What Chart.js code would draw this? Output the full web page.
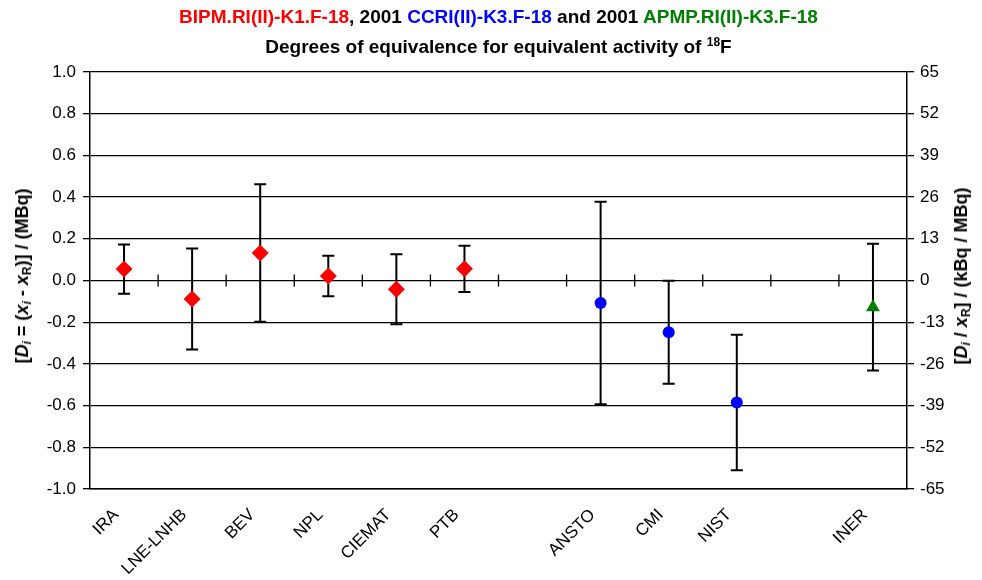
<!DOCTYPE html>
<html>
<head>
<meta charset="utf-8">
<script src="https://cdn.jsdelivr.net/npm/chart.js@4.4.0/dist/chart.umd.min.js"></script>
<style>
  body { margin: 0; background: #fff; font-family: "Liberation Sans", Arial, sans-serif; }
  #wrap { position: relative; width: 982px; height: 580px; }
  #title { position: absolute; left: 90px; width: 817px; top: 6px; text-align: center; font-weight: bold; }
  #title .l1 { font-size: 19px; line-height: 22px; }
  #title .l2 { font-size: 19px; line-height: 22px; margin-top: 3px; }
  .ytitle { position: absolute; font-weight: bold; font-size: 18px; white-space: nowrap;
            transform: translate(-50%, -50%) rotate(-90deg); }
  .ytitle sub { font-size: 12px; vertical-align: -3px; }
  sup { font-size: 12px; vertical-align: 7px; }
</style>
</head>
<body>
<div id="wrap">
  <canvas id="chart" width="982" height="580"></canvas>
  <div id="title">
    <div class="l1"><span style="color:#ff0000">BIPM.RI(II)-K1.F-18</span>, 2001 <span style="color:#0000ff">CCRI(II)-K3.F-18</span> and 2001 <span style="color:#008000">APMP.RI(II)-K3.F-18</span></div>
    <div class="l2">Degrees of equivalence for equivalent activity of <sup>18</sup>F</div>
  </div>
  <div class="ytitle" style="left:23px; top:276px;">[<i>D</i><sub><i>i</i></sub> = (<i>x</i><sub><i>i</i></sub> - <i>x</i><sub>R</sub>)] / (MBq)</div>
  <div class="ytitle" style="left:962px; top:276px;">[<i>D</i><sub><i>i</i></sub> / <i>x</i><sub>R</sub>] / (kBq / MBq)</div>
</div>
<script>
// labs in comparison order, blanks are gaps between comparisons
const labs = ['IRA', 'LNE-LNHB', 'BEV', 'NPL', 'CIEMAT', 'PTB', '', 'ANSTO', 'CMI', 'NIST', '', 'INER'];

// degrees of equivalence D_i (MBq) and expanded uncertainty U_i
const bipmD = [0.055, -0.089, 0.132, 0.022, -0.042, 0.056, null, null, null, null, null, null];
const bipmU = [0.118, 0.242, 0.330, 0.097, 0.168, 0.111, null, null, null, null, null, null];
const ccriD = [null, null, null, null, null, null, null, -0.108, -0.248, -0.585, null, null];
const ccriU = [null, null, null, null, null, null, null, 0.486, 0.247, 0.325, null, null];
const apmpD = [null, null, null, null, null, null, null, null, null, null, null, -0.128];
const apmpU = [null, null, null, null, null, null, null, null, null, null, null, 0.304];

const leftTicks = [-1.0, -0.8, -0.6, -0.4, -0.2, 0.0, 0.2, 0.4, 0.6, 0.8, 1.0];
const rightTicks = [-65, -52, -39, -26, -13, 0, 13, 26, 39, 52, 65];

Chart.defaults.font.family = '"Liberation Sans", Arial, sans-serif';
Chart.defaults.color = '#000';

// error bars drawn under the markers
const errorBars = {
  id: 'errorBars',
  beforeDatasetsDraw(chart) {
    const ctx = chart.ctx;
    const x = chart.scales.x, y = chart.scales.y;
    ctx.save();
    ctx.strokeStyle = '#000';
    ctx.lineWidth = 2;
    chart.data.datasets.forEach(ds => {
      ds.data.forEach((v, i) => {
        if (v == null) return;
        const u = ds.errors[i];
        const px = x.getPixelForValue(i);
        const top = y.getPixelForValue(v + u);
        const bot = y.getPixelForValue(v - u);
        ctx.beginPath();
        ctx.moveTo(px, top); ctx.lineTo(px, bot);
        ctx.moveTo(px - 6, top); ctx.lineTo(px + 6, top);
        ctx.moveTo(px - 6, bot); ctx.lineTo(px + 6, bot);
        ctx.stroke();
      });
    });
    ctx.restore();
  }
};

// small category separators across the zero line
const zeroTicks = {
  id: 'zeroTicks',
  beforeDatasetsDraw(chart) {
    const ctx = chart.ctx;
    const x = chart.scales.x, y = chart.scales.y;
    const y0 = y.getPixelForValue(0);
    ctx.save();
    ctx.strokeStyle = '#000';
    ctx.lineWidth = 1.3;
    ctx.beginPath();
    for (let i = 1; i < labs.length; i++) {
      const px = (x.getPixelForValue(i - 1) + x.getPixelForValue(i)) / 2;
      ctx.moveTo(px, y0 - 6); ctx.lineTo(px, y0 + 6);
    }
    ctx.stroke();
    ctx.restore();
  }
};

new Chart(document.getElementById('chart'), {
  type: 'line',
  data: {
    labels: labs,
    datasets: [
      { label: 'BIPM.RI(II)-K1.F-18', data: bipmD, errors: bipmU, showLine: false,
        pointStyle: 'rectRot', pointRadius: 8.5, backgroundColor: '#ff0000', borderColor: '#ff0000', borderWidth: 0 },
      { label: 'CCRI(II)-K3.F-18', data: ccriD, errors: ccriU, showLine: false,
        pointStyle: 'circle', pointRadius: 6, backgroundColor: '#0000ff', borderColor: '#0000ff', borderWidth: 0 },
      { label: 'APMP.RI(II)-K3.F-18', data: apmpD, errors: apmpU, showLine: false,
        pointStyle: 'triangle', pointRadius: 8, backgroundColor: '#008000', borderColor: '#008000', borderWidth: 0 }
    ]
  },
  options: {
    responsive: false,
    animation: false,
    layout: { padding: { top: 72, left: 0, right: 0, bottom: 0 } },
    plugins: { legend: { display: false }, tooltip: { enabled: false } },
    scales: {
      x: {
        offset: true,
        grid: { display: false, drawTicks: false },
        border: { display: true, color: '#000', width: 1.5 },
        ticks: { minRotation: 45, maxRotation: 45, autoSkip: false, padding: 16, labelOffset: -8, font: { size: 17 } },
        afterFit(s) { s.height = 91; }
      },
      y: {
        position: 'left',
        min: -1, max: 1,
        afterBuildTicks(s) { s.ticks = leftTicks.map(v => ({ value: v })); },
        grid: { color: '#000', lineWidth: 1.3, tickLength: 7 },
        border: { display: true, color: '#000', width: 1.5 },
        ticks: { padding: 7, font: { size: 17 }, callback: v => v.toFixed(1) },
        afterFit(s) { s.width = 90; }
      },
      y2: {
        position: 'right',
        min: -65, max: 65,
        afterBuildTicks(s) { s.ticks = rightTicks.map(v => ({ value: v })); },
        grid: { drawOnChartArea: false, color: '#000', lineWidth: 1.3, tickLength: 7 },
        border: { display: true, color: '#000', width: 1.5 },
        ticks: { padding: 6, font: { size: 17 }, callback: v => String(v) },
        afterFit(s) { s.width = 75; }
      }
    }
  },
  plugins: [zeroTicks, errorBars]
});
</script>
</body>
</html>
